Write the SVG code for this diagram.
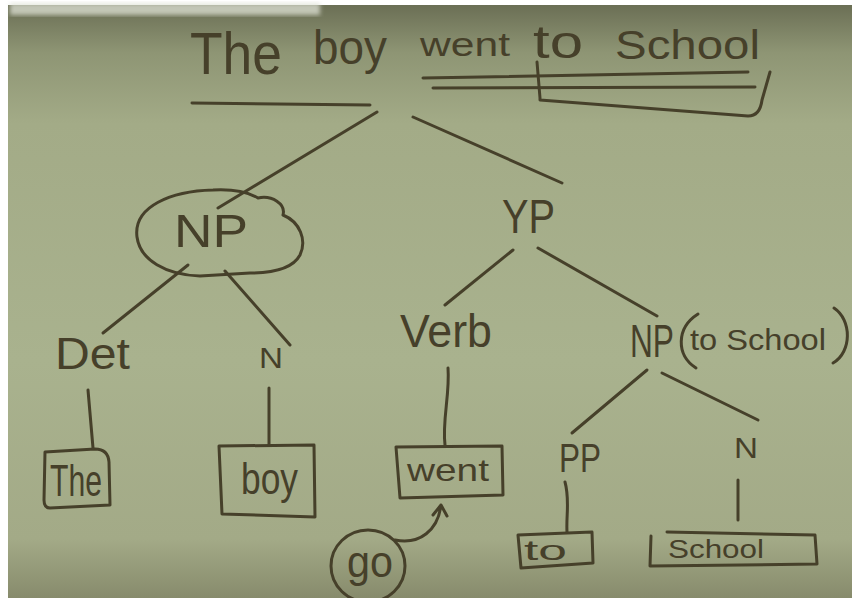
<svg xmlns="http://www.w3.org/2000/svg" width="852" height="598" viewBox="0 0 852 598">
<defs>
<linearGradient id="bg" x1="0" y1="0" x2="0" y2="1">
<stop offset="0" stop-color="#6b6f55"/>
<stop offset="0.08" stop-color="#8e9574"/>
<stop offset="0.2" stop-color="#a3ab87"/>
<stop offset="0.6" stop-color="#a9b28e"/>
<stop offset="0.9" stop-color="#a3aa87"/>
<stop offset="1" stop-color="#878b6c"/>
</linearGradient>
<filter id="blur"><feGaussianBlur stdDeviation="2"/></filter>
<style>
.ink{fill:none;stroke:#46402a;stroke-width:3;stroke-linecap:round;stroke-linejoin:round}
.t{font-family:"Liberation Sans","DejaVu Sans",sans-serif;fill:#46402a}
</style>
</defs>
<rect x="0" y="0" width="852" height="598" fill="#ffffff"/>
<rect x="8" y="5" width="844" height="593" fill="url(#bg)"/>
<rect x="10" y="3" width="310" height="12" fill="#dfe2d6" opacity="0.75" filter="url(#blur)"/>

<g id="sentence">
<text class="t" x="190" y="74" font-size="60" textLength="92" lengthAdjust="spacingAndGlyphs">The</text>
<text class="t" x="313" y="64" font-size="48" textLength="74" lengthAdjust="spacingAndGlyphs">boy</text>
<text class="t" x="420" y="56" font-size="34" textLength="90" lengthAdjust="spacingAndGlyphs">went</text>
<text class="t" x="533" y="58" font-size="46" textLength="50" lengthAdjust="spacingAndGlyphs">to</text>
<text class="t" x="615" y="59" font-size="40" textLength="145" lengthAdjust="spacingAndGlyphs">School</text>
<path class="ink" d="M192,103 L370,105"/>
<path class="ink" d="M423,78 L748,72"/>
<path class="ink" d="M433,88 L755,87"/>
<path class="ink" d="M537,62 L540,98 L540,100 L748,116 Q760,116 762,100 L770,72"/>
</g>

<g id="np">
<path class="ink" d="M137,237 C133,206 172,191 213,190 C232,189 248,192 258,198 C272,195 286,204 283,215 C300,222 307,240 300,255 C292,270 270,273 250,273 L200,276 C166,275 140,260 137,237 Z"/>
<text class="t" x="174" y="247" font-size="46" textLength="74" lengthAdjust="spacingAndGlyphs">NP</text>
</g>
<g id="vp"><text class="t" x="502" y="233" font-size="48" textLength="53" lengthAdjust="spacingAndGlyphs">YP</text></g>
<g id="det"><text class="t" x="55" y="369" font-size="44" textLength="75" lengthAdjust="spacingAndGlyphs">Det</text></g>
<g id="n1"><text class="t" x="259" y="368" font-size="29" textLength="24" lengthAdjust="spacingAndGlyphs">N</text></g>
<g id="verb"><text class="t" x="400" y="347" font-size="46" textLength="92" lengthAdjust="spacingAndGlyphs">Verb</text></g>
<g id="np2">
<text class="t" x="630" y="357" font-size="46" textLength="44" lengthAdjust="spacingAndGlyphs">NP</text>
<path class="ink" d="M698,314 C676,328 676,355 696,368"/>
<text class="t" x="690" y="350" font-size="30" textLength="136" lengthAdjust="spacingAndGlyphs">to School</text>
<path class="ink" d="M834,308 C852,320 852,352 833,363"/>
</g>
<g id="pp"><text class="t" x="559" y="472" font-size="40" textLength="42" lengthAdjust="spacingAndGlyphs">PP</text></g>
<g id="n2"><text class="t" x="734" y="458" font-size="30" textLength="24" lengthAdjust="spacingAndGlyphs">N</text></g>

<g id="leaf-the">
<path class="ink" d="M45,452 L95,449 Q108,449 109,462 L110,505 L50,508 Q44,508 44,500 Z"/>
<text class="t" x="50" y="496" font-size="44" textLength="52" lengthAdjust="spacingAndGlyphs">The</text>
</g>
<g id="leaf-boy">
<path class="ink" d="M219,446 L314,445 L315,517 L222,514 Z"/>
<text class="t" x="241" y="494" font-size="44" textLength="57" lengthAdjust="spacingAndGlyphs">boy</text>
</g>
<g id="leaf-went">
<path class="ink" d="M396,447 L502,446 L503,495 L400,498 Z"/>
<text class="t" x="407" y="481" font-size="32" textLength="82" lengthAdjust="spacingAndGlyphs">went</text>
</g>
<g id="leaf-to">
<path class="ink" d="M518,535 L592,532 L593,563 L521,568 Z"/>
<text class="t" x="524" y="560" font-size="28" textLength="43" lengthAdjust="spacingAndGlyphs">to</text>
</g>
<g id="leaf-school">
<path class="ink" d="M651,536 L650,566 L817,564 L815,535 L667,532"/>
<text class="t" x="668" y="558" font-size="26" textLength="96" lengthAdjust="spacingAndGlyphs">School</text>
</g>
<g id="leaf-go">
<ellipse class="ink" cx="368" cy="566" rx="37" ry="36"/>
<text class="t" x="347" y="577" font-size="44" textLength="46" lengthAdjust="spacingAndGlyphs">go</text>
</g>

<g id="connectors">
<path class="ink" d="M377,112 L218,208"/>
<path class="ink" d="M413,117 L562,183"/>
<path class="ink" d="M188,265 L103,333"/>
<path class="ink" d="M225,271 L290,345"/>
<path class="ink" d="M513,250 L445,305"/>
<path class="ink" d="M538,248 L657,316"/>
<path class="ink" d="M88,390 L93,448"/>
<path class="ink" d="M269,388 L269,445"/>
<path class="ink" d="M448,368 C450,395 442,420 445,445"/>
<path class="ink" d="M647,370 L572,433"/>
<path class="ink" d="M662,373 L758,420"/>
<path class="ink" d="M565,482 C570,500 566,515 567,532"/>
<path class="ink" d="M738,480 L738,520"/>
<path class="ink" d="M395,540 C420,545 438,530 441,505 M433,515 L441,505 L447,516"/>
</g>
</svg>
